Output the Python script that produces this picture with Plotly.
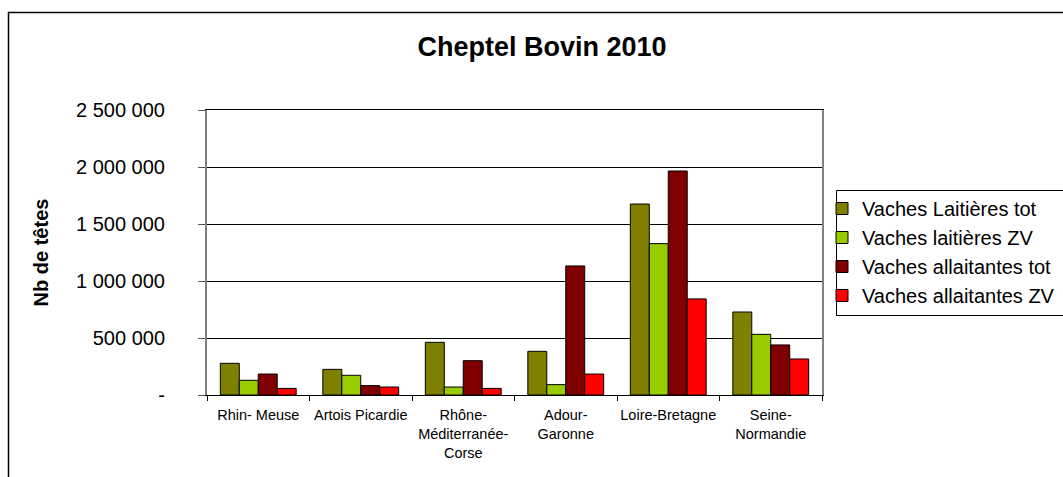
import plotly.graph_objects as go

# Bassins
bassins = ["Rhin- Meuse", "Artois Picardie", "Rhône-Méditerranée-Corse",
           "Adour-Garonne", "Loire-Bretagne", "Seine-Normandie"]
bassin_labels = ["Rhin- Meuse", "Artois Picardie", "Rhône-<br>Méditerranée-<br>Corse",
                 "Adour-<br>Garonne", "Loire-Bretagne", "Seine-<br>Normandie"]

# Nombre de têtes par catégorie
laitieres_tot = [278000, 225000, 462000, 383000, 1675000, 728000]
laitieres_zv = [129000, 173000, 70000, 91000, 1328000, 532000]
allaitantes_tot = [184000, 82000, 301000, 1132000, 1965000, 439000]
allaitantes_zv = [58000, 70000, 58000, 184000, 843000, 316000]

series_names = ["Vaches Laitières tot", "Vaches laitières ZV",
                "Vaches allaitantes tot", "Vaches allaitantes ZV"]
series_values = [laitieres_tot, laitieres_zv, allaitantes_tot, allaitantes_zv]
series_colors = ["#808000", "#99CC00", "#800000", "#FF0000"]

y_ticks = [0, 500000, 1000000, 1500000, 2000000, 2500000]
y_tick_text = ["-", "500 000", "1 000 000", "1 500 000", "2 000 000", "2 500 000"]

FONT = "Liberation Sans, Arial, sans-serif"
W, H = 1063, 477
L, R, T, B = 207, 241, 110, 82
pw, ph = W - L - R, H - T - B

fig = go.Figure()
for name, vals, col in zip(series_names, series_values, series_colors):
    fig.add_trace(go.Bar(
        x=bassins, y=vals, name=name,
        marker=dict(color=col, line=dict(color="#000000", width=1)),
    ))

def px_x(p):
    return (p - L) / pw

def px_y(p):
    return (H - B - p) / ph

fig.update_layout(
    width=W, height=H,
    margin=dict(l=L, r=R, t=T, b=B, autoexpand=False),
    paper_bgcolor="white", plot_bgcolor="white",
    font=dict(family=FONT, color="#000000"),
    barmode="group", bargap=0.26, bargroupgap=0,
    title=dict(text="Cheptel Bovin 2010", x=542 / W, xanchor="center",
               xref="container", y=1 - 47 / H, yref="container", yanchor="middle",
               font=dict(size=27, weight="bold", family=FONT), automargin=False),
    showlegend=True,
    legend=dict(x=px_x(822), y=px_y(189), xref="paper", yref="paper",
                xanchor="left", yanchor="top",
                bgcolor="rgba(0,0,0,0)", borderwidth=0,
                font=dict(size=20, family=FONT), itemwidth=30,
                tracegroupgap=0),
    xaxis=dict(
        tickvals=bassins, ticktext=bassin_labels, tickangle=0, automargin=False,
        tickson="boundaries", ticks="outside", ticklen=5, tickcolor="#000000",
        showline=True, linecolor="#000000", linewidth=1, mirror=True,
        tickfont=dict(size=14.5, family=FONT), showgrid=False,
        ticklabelstandoff=7,
    ),
    yaxis=dict(
        range=[0, 2500000], tickvals=y_ticks, ticktext=y_tick_text, automargin=False,
        ticks="outside", ticklen=7, tickcolor="#555555",
        showline=True, linecolor="#808080", linewidth=2, mirror=True,
        showgrid=True, gridcolor="#000000", gridwidth=1,
        tickfont=dict(size=20, family=FONT), ticklabelstandoff=29,
        title=dict(text="Nb de têtes", font=dict(size=20, weight="bold", family=FONT),
                   standoff=22),
        zeroline=False,
    ),
    shapes=[
        # chart frame
        dict(type="rect", xref="paper", yref="paper",
             x0=px_x(8.5), x1=px_x(1080), y0=px_y(12.5), y1=px_y(490),
             line=dict(color="#000000", width=1.5), fillcolor="rgba(0,0,0,0)"),
        # legend frame
        dict(type="rect", xref="paper", yref="paper",
             x0=px_x(836.5), x1=px_x(1080), y0=px_y(190.5), y1=px_y(315.5),
             line=dict(color="#000000", width=1), fillcolor="rgba(0,0,0,0)"),
    ],
)

fig.write_html("out.html")
